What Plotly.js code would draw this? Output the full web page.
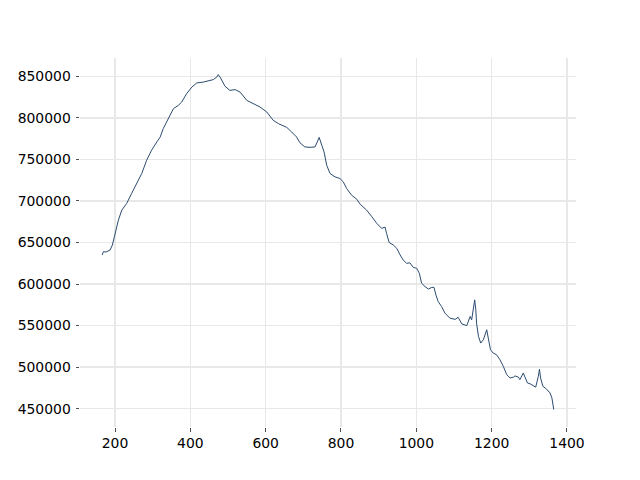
<!DOCTYPE html>
<html>
<head>
<meta charset="utf-8">
<script src="https://cdn.plot.ly/plotly-3.0.1.min.js"></script>
<style>html,body{margin:0;padding:0;background:#fff;}#chart{width:640px;height:480px;}</style>
</head>
<body>
<div id="chart"></div>
<script>
const xValues = [166,169,176,187,193,200,209,218,231,244,258,271,284,297,311,320,328,342,355,368,377,390,404,417,434,461,470,474,479,492,505,519,532,550,567,585,
603,620,634,643,656,669,682,691,704,718,731,737,742,749,755,762,771,784,797,806,815,828,842,
851,868,882,895,908,917,921,928,939,948,957,965,974,983,992,1001,1008,1014,1023,1032,1041,1047,1052,1058,1067,
1076,1089,1103,1111,1121,1134,1138,1143,1147,1151,1155,1158,1160,1165,1171,1178,1187,1191,1197,1204,1213,1222,1231,1240,1249,1258,1262,1271,1275,1284,1289,1295,1302,1311,1317,1324,1327,1330,1336,1346,1355,1360,1364,1365];
const yValues = [635000,639000,638500,641000,647000,661000,677000,689000,697000,709000,721000,733000,749000,761000,771000,777000,787000,799000,811000,815000,819000,829000,837000,842000,843000,846000,849000,852000,849000,838000,833000,834000,831000,821000,817000,813000,
807000,797000,793000,791000,788500,783000,777000,770000,765000,764500,765000,771000,776500,767000,759000,743000,733000,729000,727000,723000,715000,707000,702000,
696000,689000,681000,673000,667000,668500,661000,650000,647000,643000,635000,629000,625000,625500,620000,619000,613000,601000,597000,594000,596000,596000,587000,579000,573000,
565000,559000,557500,560000,552000,550000,555000,561000,557000,569000,581000,569000,553000,537000,529000,533000,545000,535000,521000,517000,515000,509000,501000,491000,487000,488000,489500,488000,485000,493000,487000,481000,480000,478000,476000,489000,497500,487000,477000,473500,469000,463000,453000,449000];

const yTicks = [450000,500000,550000,600000,650000,700000,750000,800000,850000];
const xTicks = [200,400,600,800,1000,1200,1400];

const trace = {
  x: xValues, y: yValues, type: 'scatter', mode: 'lines',
  line: {color: '#2c4b70', width: 1}, hoverinfo: 'none'
};
const axisCommon = {
  showline: false, zeroline: false, showgrid: true,
  gridcolor: '#e8e8e8', gridwidth: 1.5,
  ticks: 'outside', ticklen: 3.5, tickwidth: 0.8, tickcolor: '#222',
  tickfont: {family: 'DejaVu Sans', size: 13.9, color: '#000'}
};
const layout = {
  width: 640, height: 480,
  margin: {l: 80, r: 64, t: 58, b: 53, pad: 0},
  paper_bgcolor: '#fff', plot_bgcolor: '#fff',
  showlegend: false,
  xaxis: Object.assign({}, axisCommon, {range: [107, 1424], tickvals: xTicks, ticktext: xTicks.map(String)}),
  yaxis: Object.assign({}, axisCommon, {range: [428000, 872000], tickvals: yTicks, ticktext: yTicks.map(String), ticklabelstandoff: 2})
};
Plotly.newPlot('chart', [trace], layout, {staticPlot: true, displayModeBar: false});
</script>
</body>
</html>
